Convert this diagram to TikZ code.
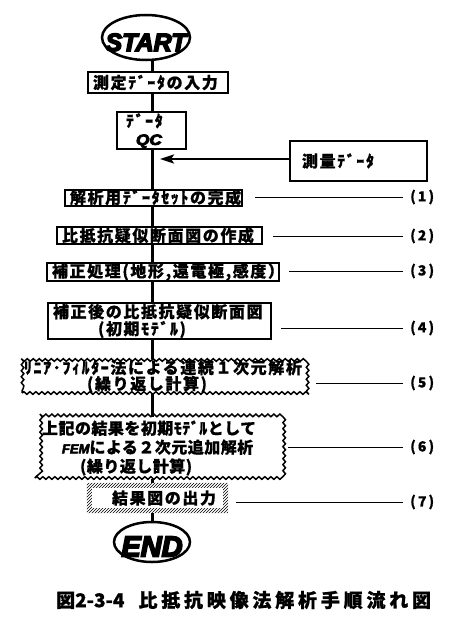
\documentclass[tikz,border=0pt]{standalone}
\usepackage{fontspec}
\usepackage{graphicx}
\usetikzlibrary{shapes.geometric,decorations.pathmorphing,patterns,arrows.meta}
\newfontfamily\jp{Noto Sans CJK JP}[LetterSpace=10,FakeBold=0.6]
\newfontfamily\jpt{Noto Sans CJK JP}[LetterSpace=3,FakeBold=0.6]
\newfontfamily\jpcap{Noto Sans CJK JP}[LetterSpace=20,FakeBold=1]
\newfontfamily\jpplain{Noto Sans CJK JP}[FakeBold=1]
\newfontfamily\jpnum{Noto Sans CJK JP}[LetterSpace=15,FakeBold=0.6]
\font\termA="Liberation Sans/BI:embolden=6" at 25pt
\font\termB="Liberation Sans/BI:embolden=6" at 29pt
\font\femF="Liberation Sans/BI:embolden=4" at 13pt
\font\qcF="Liberation Sans/BI:embolden=5" at 15pt
\newcommand\jpbox{\jp\bfseries\fontsize{16pt}{17pt}\selectfont}
\newcommand\jpboxt{\jpt\bfseries\fontsize{16pt}{17pt}\selectfont}
\newcommand\capfont{\jpcap\bfseries\fontsize{19pt}{19pt}\selectfont}
\newcommand\numfont{\jpnum\bfseries\fontsize{14pt}{14pt}\selectfont}
\begin{document}
\begin{tikzpicture}[x=1pt,y=-1pt]
\tikzset{
 flowbox/.style={draw, line width=2pt, inner ysep=0pt, align=left, font=\jpbox},
 wavybox/.style={draw, line width=1.5pt, inner ysep=0pt, align=left, font=\jpbox,
   decorate, decoration={snake, amplitude=1.3pt, segment length=6pt}},
 term/.style={ellipse, draw, line width=2.5pt, inner sep=0pt},
 flow/.style={line width=3pt},
 leader/.style={line width=1pt},
 numlabel/.style={anchor=west, inner xsep=7pt, inner ysep=0pt, font=\numfont},
}
\fill[white] (0,0) rectangle (453,629);
\useasboundingbox (0,0) rectangle (453,629);
\coordinate (axis) at (152.5,0);

\node[term, minimum width=88pt, minimum height=45pt, font=\termA] (start) at (146,37.5)
  {\makebox[0pt]{\raisebox{-13.5pt}[0pt][0pt]{START}}};
\node[flowbox, minimum height=21pt, text width=130pt, inner xsep=5pt] (b0) at (158,82.5) {測定ﾃﾞｰﾀの入力};
\node[flowbox, minimum height=37pt, text width=51pt, inner xsep=9pt] (qc) at (151.5,130.5)
  {ﾃﾞｰﾀ\\[1pt]\hspace*{10pt}{\qcF\scalebox{1.15}[1]{QC}}};
\node[flowbox, minimum height=40pt, text width=113pt, inner xsep=12pt] (survey) at (358.5,161) {測量ﾃﾞｰﾀ};
\node[flowbox, minimum height=16pt, text width=167pt, inner xsep=5pt] (b1) at (153.5,197.5) {解析用ﾃﾞｰﾀｾｯﾄの完成};
\node[flowbox, minimum height=17pt, text width=195pt, inner xsep=5pt] (b2) at (159.5,235.5) {比抵抗疑似断面図の作成};
\node[flowbox, minimum height=18pt, text width=222pt, inner xsep=5pt] (b3) at (163,272) {補正処理(地形,遠電極,感度）};
\node[flowbox, minimum height=36pt, text width=213pt, inner xsep=5pt] (b4) at (159.5,321)
  {補正後の比抵抗疑似断面図\\\hspace*{45pt}(初期ﾓﾃﾞﾙ)};
\node[wavybox, minimum height=33pt, text width=281pt, inner xsep=2pt] (b5) at (164.5,376.5)
  {ﾘﾆｱ･ﾌｨﾙﾀｰ法による連続１次元解析\\[-1pt]\hspace*{63pt}(繰り返し計算)};
\node[wavybox, font=\jpboxt, minimum height=60pt, text width=231pt, inner xsep=7pt] (b6) at (157.5,448)
  {上記の結果を初期ﾓﾃﾞﾙとして\\[2pt]\hspace*{20pt}{\femF FEM}による２次元追加解析\\[2pt]\hspace*{38pt}(繰り返し計算)};
\node[minimum height=30pt, text width=91pt, inner xsep=25pt, inner ysep=0pt, align=left, font=\jpbox] (b7) at (157.5,498) {結果図の出力};
\fill[pattern=north east lines, even odd rule] (b7.north west) rectangle (b7.south east)
  ([xshift=5pt,yshift=-5pt]b7.north west) rectangle ([xshift=-5pt,yshift=5pt]b7.south east);
\node[term, minimum width=76pt, minimum height=40pt, font=\termB] (end) at (152,542)
  {\makebox[0pt]{\raisebox{-14.5pt}[0pt][0pt]{END}}};

% main flow
\draw[flow] (axis |- start.south) -- (axis |- b0.north);
\draw[flow] (axis |- b0.south) -- (axis |- qc.north);
\draw[flow] (axis |- qc.south) -- (axis |- b1.north);
\draw[flow] (axis |- b1.south) -- (axis |- b2.north);
\draw[flow] (axis |- b2.south) -- (axis |- b3.north);
\draw[flow] (axis |- b3.south) -- (axis |- b4.north);
\draw[flow] (axis |- b4.south) -- (axis |- b5.north);
\draw[flow] (axis |- b5.south) -- (axis |- b6.north);
\draw[flow] (axis |- b6.south) -- (axis |- b7.north);
\draw[flow] (axis |- b7.south) -- (axis |- end.north);

\coordinate (tip) at (160,159);
\draw[line width=2.5pt, -{Stealth[length=14pt,width=9pt,inset=3pt]}] (survey.west |- tip) -- (tip);

% numbered labels
\node[numlabel] (l1) at (403,197) {(1)};
\node[numlabel] (l2) at (403,236) {(2)};
\node[numlabel] (l3) at (403,271) {(3)};
\node[numlabel] (l4) at (403,328) {(4)};
\node[numlabel] (l5) at (403,383) {(5)};
\node[numlabel] (l6) at (403,447) {(6)};
\node[numlabel] (l7) at (403,502) {(7)};
\draw[leader] ([xshift=12pt]b1.east |- l1.west) -- (l1.west);
\draw[leader] ([xshift=10pt]b2.east |- l2.west) -- (l2.west);
\draw[leader] ([xshift=9pt]b3.east |- l3.west) -- (l3.west);
\draw[leader] ([xshift=9pt]b4.east |- l4.west) -- (l4.west);
\draw[leader] ([xshift=8pt]b5.east |- l5.west) -- (l5.west);
\draw[leader] ([xshift=7pt]b6.east |- l6.west) -- (l6.west);
\draw[leader] ([xshift=8pt]b7.east |- l7.west) -- (l7.west);

\node[font=\capfont, inner sep=0pt, anchor=west] (cap) at (56,600)
  {図{\jpplain 2-3-4}\hspace{14pt}比抵抗映像法解析手順流れ図};
\end{tikzpicture}
\end{document}
